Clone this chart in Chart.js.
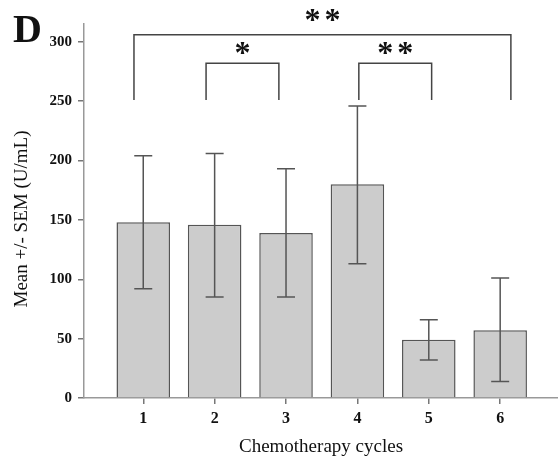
<!DOCTYPE html>
<html>
<head>
<meta charset="utf-8">
<title>Chemotherapy cycles</title>
<script src="https://cdn.jsdelivr.net/npm/chart.js"></script>
<style>
  html, body { margin: 0; padding: 0; background: #fff; }
  canvas { display: block; }
</style>
</head>
<body>
<canvas id="chart" width="558" height="466"></canvas>
<script>
// values
var cycles = [1, 2, 3, 4, 5, 6];
var means = [148, 146, 139, 180, 49, 57];
var errLow = [92, 85, 85, 113, 32, 14];
var errHigh = [204, 206, 193, 246, 66, 101];
var yTicks = [0, 50, 100, 150, 200, 250, 300];

// significance brackets (x in cycle units, y in U/mL)
var bracketStart = [0.87, 1.88, 4.02];
var bracketEnd = [6.15, 2.90, 5.04];
var bracketTop = [306, 282, 282];
var bracketFoot = [251, 251, 251];
var bracketStars = ['**', '*', '**'];
var starLevel = [322, 294, 294];

var serif = "'Liberation Serif', 'Times New Roman', serif";

var extras = {
  id: 'extras',
  afterDatasetsDraw: function (chart) {
    var ctx = chart.ctx;
    var x = chart.scales.x, y = chart.scales.y;
    ctx.save();

    // error bars
    ctx.strokeStyle = '#555';
    ctx.lineWidth = 1.5;
    cycles.forEach(function (c, i) {
      var px = x.getPixelForValue(c);
      var lo = y.getPixelForValue(errLow[i]);
      var hi = y.getPixelForValue(errHigh[i]);
      ctx.beginPath();
      ctx.moveTo(px, lo); ctx.lineTo(px, hi);
      ctx.moveTo(px - 9, lo); ctx.lineTo(px + 9, lo);
      ctx.moveTo(px - 9, hi); ctx.lineTo(px + 9, hi);
      ctx.stroke();
    });

    // brackets + stars
    ctx.strokeStyle = '#444';
    ctx.fillStyle = '#111';
    ctx.font = 'bold 32px ' + serif;
    ctx.textAlign = 'center';
    ctx.textBaseline = 'middle';
    bracketStart.forEach(function (s, i) {
      var x1 = x.getPixelForValue(s), x2 = x.getPixelForValue(bracketEnd[i]);
      var top = y.getPixelForValue(bracketTop[i]);
      var foot = y.getPixelForValue(bracketFoot[i]);
      ctx.beginPath();
      ctx.moveTo(x1, foot); ctx.lineTo(x1, top);
      ctx.lineTo(x2, top); ctx.lineTo(x2, foot);
      ctx.stroke();

      var n = bracketStars[i].length;
      var cx = (x1 + x2) / 2;
      var cy = y.getPixelForValue(starLevel[i]);
      for (var k = 0; k < n; k++) {
        ctx.fillText('*', cx + (k - (n - 1) / 2) * 20, cy + 6);
      }
    });
    ctx.restore();
  },
  afterDraw: function (chart) {
    var ctx = chart.ctx;
    ctx.save();
    ctx.fillStyle = '#111';
    ctx.font = 'bold 40px ' + serif;
    ctx.textBaseline = 'alphabetic';
    ctx.fillText('D', 13, 42);

    // y axis title
    ctx.translate(22, 219);
    ctx.rotate(-Math.PI / 2);
    ctx.font = '19px ' + serif;
    ctx.textAlign = 'center';
    ctx.textBaseline = 'middle';
    ctx.fillText('Mean +/- SEM (U/mL)', 0, 0);
    ctx.restore();
  }
};

new Chart(document.getElementById('chart'), {
  type: 'bar',
  data: {
    datasets: [{
      data: cycles.map(function (c, i) { return { x: c, y: means[i] }; }),
      backgroundColor: '#cccccc',
      borderColor: '#555',
      borderWidth: 1.5,
      barPercentage: 0.75,
      categoryPercentage: 1
    }]
  },
  options: {
    responsive: false,
    animation: false,
    layout: { padding: { top: 24, right: 0, bottom: 0, left: 0 } },
    plugins: {
      legend: { display: false },
      tooltip: { enabled: false }
    },
    scales: {
      x: {
        type: 'linear',
        offset: false,
        min: 0.17,
        max: 6.81,
        afterBuildTicks: function (axis) {
          axis.ticks = cycles.map(function (v) { return { value: v }; });
        },
        afterFit: function (axis) { axis.height = 68; },
        grid: { offset: false, drawOnChartArea: false, tickLength: 6, color: '#777', lineWidth: 1.5 },
        border: { color: '#999', width: 1.5 },
        ticks: { padding: 5, color: '#111', font: { family: serif, size: 16, weight: 'bold' } },
        title: {
          display: true,
          text: 'Chemotherapy cycles',
          color: '#111',
          font: { family: serif, size: 19 },
          padding: { top: 0, bottom: 8 }
        }
      },
      y: {
        min: 0,
        max: 315,
        afterBuildTicks: function (axis) {
          axis.ticks = yTicks.map(function (v) { return { value: v }; });
        },
        afterFit: function (axis) { axis.width = 84; },
        grid: { drawOnChartArea: false, tickLength: 6, color: '#777', lineWidth: 1.5 },
        border: { color: '#999', width: 1.5 },
        ticks: { padding: 6, color: '#111', font: { family: serif, size: 15, weight: 'bold' } }
      }
    }
  },
  plugins: [extras]
});
</script>
</body>
</html>
